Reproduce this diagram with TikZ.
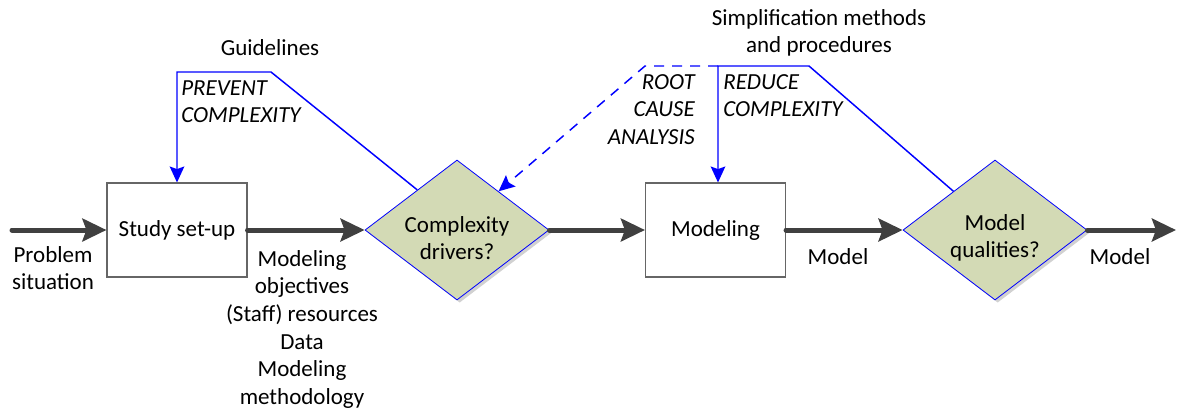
\documentclass[tikz,border=0pt]{standalone}
\usepackage{fontspec}
\setmainfont{Carlito}
\usetikzlibrary{arrows.meta,shapes.geometric,shadows,calc}

\definecolor{flowgray}{RGB}{64,64,64}
\definecolor{decisionfill}{RGB}{211,218,181}
\newcommand{\diagfont}{\fontsize{17.25pt}{20.7pt}\selectfont}

\tikzset{
  stepbox/.style={draw=black!60, line width=0.8pt, fill=white, inner sep=0pt,
    minimum width=105pt, minimum height=70.5pt},
  decision/.style={diamond, draw=blue, line width=0.6pt, fill=decisionfill,
    inner sep=0pt, minimum width=138pt, minimum height=105pt,
    drop shadow={shadow xshift=2pt, shadow yshift=-2pt, fill=black!18, opacity=1}},
  flow/.style={draw=flowgray, line width=3.75pt, line cap=round,
    -{Stealth[length=18pt, width=17pt, inset=3pt]}},
  control/.style={draw=blue, line width=1.1pt, line join=miter,
    -{Stealth[length=12pt, width=11pt, inset=2pt]}},
  lbl/.style={inner sep=0pt, align=center},
  tag/.style={inner sep=0pt, font=\diagfont\itshape},
}

\begin{document}
\begin{tikzpicture}[x=0.75pt, y=-0.75pt, font=\diagfont]
  \useasboundingbox (0,0) rectangle (1178,412);

  % Main chain of steps and checks
  \node[stepbox] (setup) at (177,230) {Study set-up};
  \node[decision] (drivers) at (457,230) {};
  \node[stepbox] (modeling) at (715.5,230) {Modeling};
  \node[decision] (qualities) at (995,230) {};
  \node[lbl] (driverstext) at ([yshift=-6pt]drivers.center) {Complexity\\drivers?};
  \node[lbl] (qualitiestext) at ([yshift=-6pt]qualities.center) {Model\\qualities?};

  \coordinate (in) at (12,230);
  \coordinate (out) at (1176,230);

  \draw[flow] (in) -- (setup.west);
  \draw[flow] (setup.east) -- (drivers.west);
  \draw[flow] (drivers.east) -- (modeling.west);
  \draw[flow] (modeling.east) -- (qualities.west);
  \draw[flow] (qualities.east) -- (out);

  % Feedback from the complexity check to the set-up
  \coordinate (g1) at (271,72);
  \coordinate (g2) at (177,72);
  \draw[control] ($(drivers.west)!0.57!(drivers.north)$) -- (g1) -- (g2) -- (setup.north);

  % Simplification loop into the modeling step
  \coordinate (hub) at (718,66);
  \coordinate (rc) at (645,66);
  \coordinate (sm) at (809,66);
  \draw[control] ($(qualities.west)!0.55!(qualities.north)$) -- (sm) -- (hub) -- (hub |- modeling.north);
  \draw[control, dashed, dash pattern=on 7.5pt off 6pt] (hub) -- (rc) -- ($(drivers.north)!0.45!(drivers.east)$);

  % Labels
  \node[lbl, anchor=north] (problem) at (53,246) {Problem\\situation};
  \node[lbl, anchor=north] (inputs) at (302,250) {Modeling\\objectives\\(Staff) resources\\Data\\Modeling\\methodology};
  \node[lbl, anchor=north] (model1) at (838,248) {Model};
  \node[lbl, anchor=north] (model2) at (1120,248) {Model};
  \node[lbl, anchor=north] (guide) at (270,39) {Guidelines};
  \node[lbl, anchor=north] (simpl) at (819,9) {Simplification methods\\and procedures};
  \node[tag, anchor=north west, align=left] (prevent) at (181,80) {PREVENT\\COMPLEXITY};
  \node[tag, anchor=north east, align=right] (root) at (695,74) {ROOT\\CAUSE\\ANALYSIS};
  \node[tag, anchor=north west, align=left] (reduce) at (723,74) {REDUCE\\COMPLEXITY};
\end{tikzpicture}
\end{document}
